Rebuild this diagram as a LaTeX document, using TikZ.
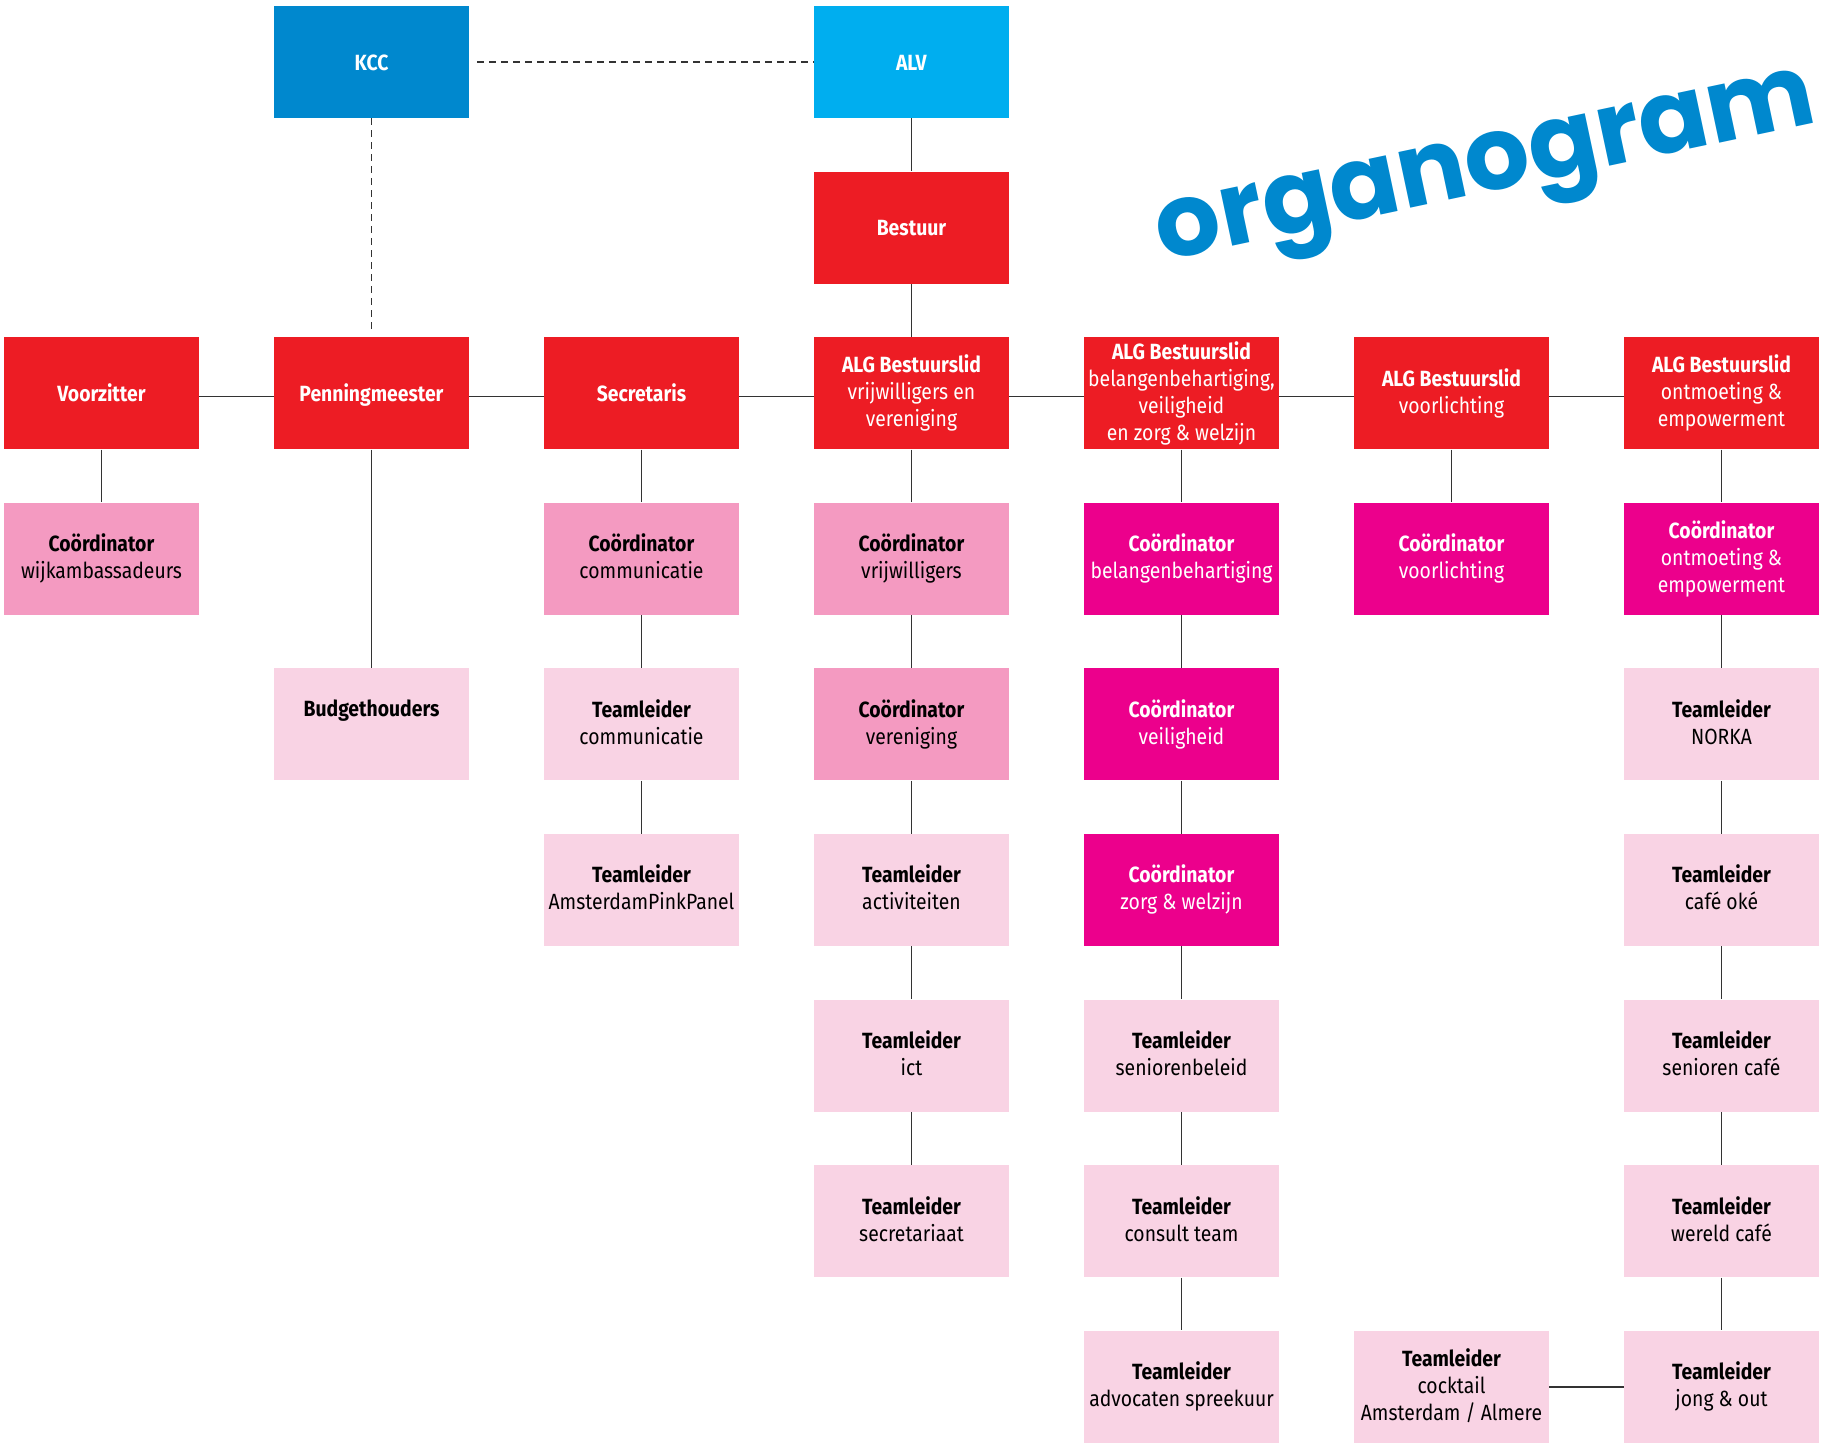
\documentclass[tikz,border=0pt]{standalone}
\usepackage{fontspec}
\setmainfont{Fira Sans}[FakeStretch=0.88]
\newfontfamily\titlefont{Poppins}
\definecolor{kcc}{HTML}{0088CE}
\definecolor{alv}{HTML}{00AEEF}
\definecolor{rd}{HTML}{ED1C24}
\definecolor{pk}{HTML}{F49AC1}
\definecolor{mg}{HTML}{EC008C}
\definecolor{lp}{HTML}{F9D3E4}
\definecolor{ln}{HTML}{333333}
\newcommand{\topstrut}{\rule{0pt}{10.9pt}}
\newcommand{\botstrut}{\rule[-2.6pt]{0pt}{2.6pt}}
\tikzset{
  box/.style={minimum width=97.5pt, minimum height=56pt, inner sep=0pt, align=center,
    font=\fontsize{11}{13.5}\selectfont, execute at begin node=\topstrut, execute at end node=\botstrut},
  kccbox/.style={box, fill=kcc, text=white},
  alvbox/.style={box, fill=alv, text=white},
  redbox/.style={box, fill=rd, text=white},
  pinkbox/.style={box, fill=pk, text=black},
  magbox/.style={box, fill=mg, text=white},
  lightbox/.style={box, fill=lp, text=black},
  conn/.style={draw=ln, line width=0.7pt},
  dconn/.style={draw=ln, line width=0.7pt, dash pattern=on 3.5pt off 2.5pt},
}
\begin{document}
\begin{tikzpicture}[x=0.5pt, y=-0.5pt]
\useasboundingbox (0,0) rectangle (1822,1447);
% row 0 / 1
\node[kccbox] (kcc) at (371.5,62) {\textbf{KCC}};
\node[alvbox] (alv) at (911.5,62) {\textbf{ALV}};
\node[redbox] (bestuur) at (911.5,227.6) {\textbf{Bestuur}};
% row 2
\node[redbox] (voorz) at (101.5,393.2) {\textbf{Voorzitter}};
\node[redbox] (penn) at (371.5,393.2) {\textbf{Penningmeester}};
\node[redbox] (secr) at (641.5,393.2) {\textbf{Secretaris}};
\node[redbox] (algvv) at (911.5,393.2) {\textbf{ALG Bestuurslid}\\vrijwilligers en\\vereniging};
\node[redbox] (algbel) at (1181.5,393.2) {\textbf{ALG Bestuurslid}\\belangenbehartiging,\\veiligheid\\en zorg \& welzijn};
\node[redbox] (algvoor) at (1451.5,393.2) {\textbf{ALG Bestuurslid}\\voorlichting};
\node[redbox] (algont) at (1721.5,393.2) {\textbf{ALG Bestuurslid}\\ontmoeting \&\\empowerment};
% row 3
\node[pinkbox] (cwijk) at (101.5,558.8) {\textbf{Coördinator}\\wijkambassadeurs};
\node[pinkbox] (ccomm) at (641.5,558.8) {\textbf{Coördinator}\\communicatie};
\node[pinkbox] (cvrij) at (911.5,558.8) {\textbf{Coördinator}\\vrijwilligers};
\node[magbox] (cbel) at (1181.5,558.8) {\textbf{Coördinator}\\belangenbehartiging};
\node[magbox] (cvoor) at (1451.5,558.8) {\textbf{Coördinator}\\voorlichting};
\node[magbox] (cont) at (1721.5,558.8) {\textbf{Coördinator}\\ontmoeting \&\\empowerment};
% row 4
\node[lightbox] (budget) at (371.5,724.4) {\textbf{Budgethouders}\\\mbox{}};
\node[lightbox] (tcomm) at (641.5,724.4) {\textbf{Teamleider}\\communicatie};
\node[pinkbox] (cver) at (911.5,724.4) {\textbf{Coördinator}\\vereniging};
\node[magbox] (cveil) at (1181.5,724.4) {\textbf{Coördinator}\\veiligheid};
\node[lightbox] (tnorka) at (1721.5,724.4) {\textbf{Teamleider}\\NORKA};
% row 5
\node[lightbox] (tapp) at (641.5,890) {\textbf{Teamleider}\\AmsterdamPinkPanel};
\node[lightbox] (tact) at (911.5,890) {\textbf{Teamleider}\\activiteiten};
\node[magbox] (czorg) at (1181.5,890) {\textbf{Coördinator}\\zorg \& welzijn};
\node[lightbox] (tcafe) at (1721.5,890) {\textbf{Teamleider}\\café oké};
% row 6
\node[lightbox] (tict) at (911.5,1055.6) {\textbf{Teamleider}\\ict};
\node[lightbox] (tsen) at (1181.5,1055.6) {\textbf{Teamleider}\\seniorenbeleid};
\node[lightbox] (tsencafe) at (1721.5,1055.6) {\textbf{Teamleider}\\senioren café};
% row 7
\node[lightbox] (tsecr) at (911.5,1221.2) {\textbf{Teamleider}\\secretariaat};
\node[lightbox] (tcons) at (1181.5,1221.2) {\textbf{Teamleider}\\consult team};
\node[lightbox] (twereld) at (1721.5,1221.2) {\textbf{Teamleider}\\wereld café};
% row 8
\node[lightbox] (tadv) at (1181.5,1386.8) {\textbf{Teamleider}\\advocaten spreekuur};
\node[lightbox] (tcock) at (1451.5,1386.8) {\textbf{Teamleider}\\cocktail\\Amsterdam / Almere};
\node[lightbox] (tjong) at (1721.5,1386.8) {\textbf{Teamleider}\\jong \& out};
% title
\node[rotate=12, text=kcc, inner sep=0pt, font=\titlefont\bfseries\fontsize{51}{51}\selectfont] (title) at (1488,177) {organogram};
% dashed connectors
\draw[dconn] ([xshift=4pt]kcc.east) -- (alv.west);
\draw[dconn] (kcc.south) -- ([yshift=3pt]penn.north);
% solid connectors
\draw[conn] (alv) -- (bestuur);
\draw[conn] (bestuur) -- (algvv);
\draw[conn] ([yshift=-1.5pt]voorz.east) -- ([yshift=-1.5pt]penn.west);
\draw[conn] ([yshift=-1.5pt]penn.east) -- ([yshift=-1.5pt]secr.west);
\draw[conn] ([yshift=-1.5pt]secr.east) -- ([yshift=-1.5pt]algvv.west);
\draw[conn] ([yshift=-1.5pt]algvv.east) -- ([yshift=-1.5pt]algbel.west);
\draw[conn] ([yshift=-1.5pt]algbel.east) -- ([yshift=-1.5pt]algvoor.west);
\draw[conn] ([yshift=-1.5pt]algvoor.east) -- ([yshift=-1.5pt]algont.west);
\draw[conn] (voorz) -- (cwijk);
\draw[conn] (penn) -- (budget);
\draw[conn] (secr) -- (ccomm);
\draw[conn] (ccomm) -- (tcomm);
\draw[conn] (tcomm) -- (tapp);
\draw[conn] (algvv) -- (cvrij);
\draw[conn] (cvrij) -- (cver);
\draw[conn] (cver) -- (tact);
\draw[conn] (tact) -- (tict);
\draw[conn] (tict) -- (tsecr);
\draw[conn] (algbel) -- (cbel);
\draw[conn] (cbel) -- (cveil);
\draw[conn] (cveil) -- (czorg);
\draw[conn] (czorg) -- (tsen);
\draw[conn] (tsen) -- (tcons);
\draw[conn] (tcons) -- (tadv);
\draw[conn] (algvoor) -- (cvoor);
\draw[conn] (algont) -- (cont);
\draw[conn] (cont) -- (tnorka);
\draw[conn] (tnorka) -- (tcafe);
\draw[conn] (tcafe) -- (tsencafe);
\draw[conn] (tsencafe) -- (twereld);
\draw[conn] (twereld) -- (tjong);
\draw[conn] (tcock) -- (tjong);
\end{tikzpicture}
\end{document}
